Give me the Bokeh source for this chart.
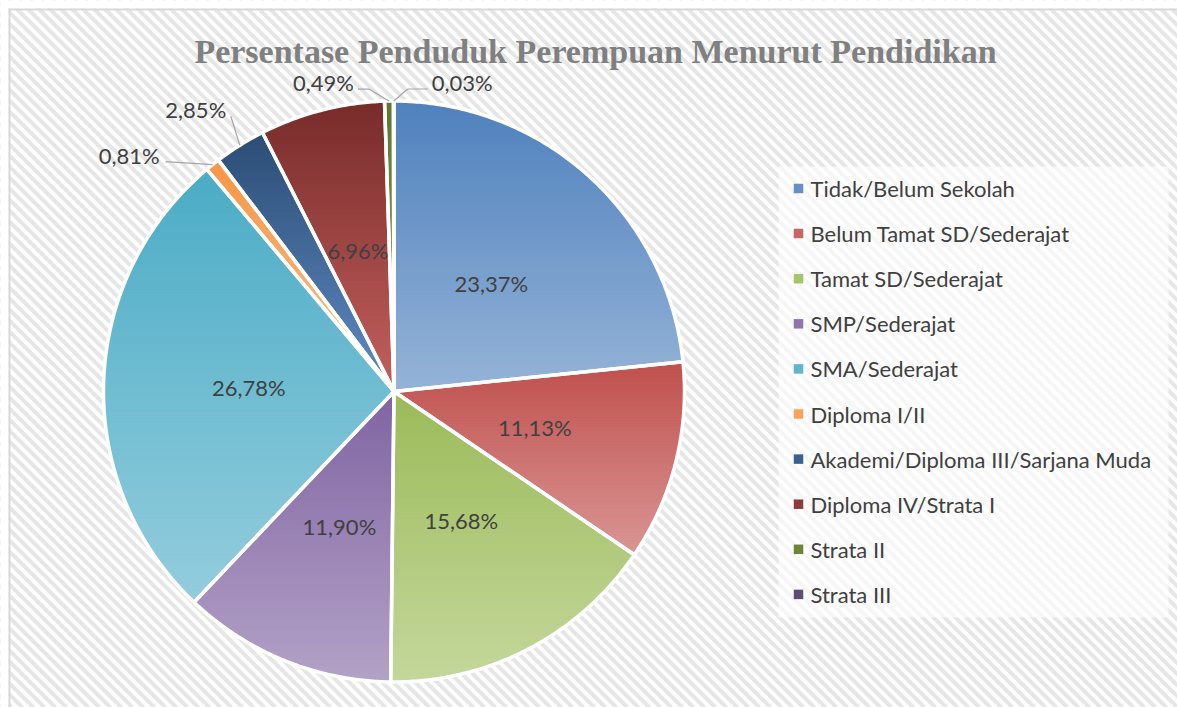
import numpy as np
from bokeh.plotting import figure
from bokeh.models import Range1d
from bokeh.core.properties import value
from bokeh.embed import file_html
from bokeh.resources import INLINE

# ---------------- data ----------------
title_text = "Persentase Penduduk Perempuan Menurut Pendidikan"
categories = [
    "Tidak/Belum Sekolah",
    "Belum Tamat SD/Sederajat",
    "Tamat SD/Sederajat",
    "SMP/Sederajat",
    "SMA/Sederajat",
    "Diploma I/II",
    "Akademi/Diploma III/Sarjana Muda",
    "Diploma IV/Strata I",
    "Strata II",
    "Strata III",
]
percentages = [23.37, 11.13, 15.68, 11.90, 26.78, 0.81, 2.85, 6.96, 0.49, 0.03]

# ---------------- style ----------------
top_colors = ["#4F81BD", "#C0504D", "#9BBB59", "#8064A2", "#4BACC6",
              "#F79646", "#2C4D75", "#772C2A", "#5F7530", "#4D3B62"]
bottom_colors = ["#95B3D7", "#D99694", "#C4D79B", "#B3A2C7", "#93CDDD",
                 "#FAC090", "#5F8BC4", "#C4605E", "#8FAA55", "#8D79A8"]

W, H = 1177, 707
CX, CY, R = 393.5, 391.0, 290.5
TEXT_FONT = "Lato"
TEXT_COLOR = "#404040"

# outside label layout: offsets relative to slice's arc mid-point
outside_layout = {
    5: dict(leader=[(-47, -3)], label=(-53, -9), align="right"),
    6: dict(leader=[(-9, -29)], label=(-44, -36), align="center"),
    8: dict(leader=[(-20, -12), (-31, -12)], label=(-35, -19), align="right"),
    9: dict(leader=[(14, -12), (34, -12)], label=(38, -19), align="left"),
}


def hex2rgb(h):
    h = h.lstrip("#")
    return np.array([int(h[i:i + 2], 16) for i in (0, 2, 4)], dtype=float)


def rgb2hex(c):
    c = np.clip(np.round(c), 0, 255).astype(int)
    return "#%02x%02x%02x" % tuple(c)


def clip_half(pts, keep, yc):
    out = []
    n = len(pts)
    for i in range(n):
        cur = pts[i]
        prev = pts[i - 1]
        cin, pin = keep(cur), keep(prev)
        if cin:
            if not pin:
                t = (yc - prev[1]) / (cur[1] - prev[1])
                out.append((prev[0] + t * (cur[0] - prev[0]), yc))
            out.append(cur)
        elif pin:
            t = (yc - prev[1]) / (cur[1] - prev[1])
            out.append((prev[0] + t * (cur[0] - prev[0]), yc))
    return out


def clip_band(pts, y0, y1):
    p1 = clip_half(pts, lambda p: p[1] >= y0, y0)
    if len(p1) < 3:
        return None
    p2 = clip_half(p1, lambda p: p[1] <= y1, y1)
    if len(p2) < 3:
        return None
    return p2


p = figure(width=W, height=H, x_range=Range1d(0, W), y_range=Range1d(H, 0),
           output_backend="svg", toolbar_location=None, min_border=0,
           x_axis_location=None, y_axis_location=None)
p.grid.visible = False
p.outline_line_color = None
p.background_fill_color = "white"
p.border_fill_color = "white"

# background diagonal stripes
sx0, sy0, sx1, sy1 = [], [], [], []
for x0 in np.arange(-H, W + 20, 11.0):
    sx0.append(x0)
    sy0.append(0)
    sx1.append(x0 + H)
    sy1.append(H)
p.segment(x0=sx0, y0=sy0, x1=sx1, y1=sy1, line_color="#E6E6E6", line_width=4)

# white margin outside the chart area and chart border (top / left)
p.quad(left=[0, 0], right=[W, 8], top=[0, 0], bottom=[8, H], fill_color="white", line_color=None)
p.segment(x0=[8, 9], y0=[9, 8], x1=[W, 9], y1=[9, H], line_color="#D9D9D9", line_width=2)

# ---------------- pie ----------------
total = sum(percentages)
cum = np.concatenate([[0], np.cumsum(percentages)]) / total * 2 * np.pi

slice_polys = []
band_xs, band_ys, band_cols = [], [], []
for i, v in enumerate(percentages):
    a0, a1 = cum[i], cum[i + 1]
    n = max(2, int(np.degrees(a1 - a0) * 2) + 2)
    angs = np.linspace(a0, a1, n)
    pts = [(CX, CY)] + [(CX + R * np.sin(a), CY - R * np.cos(a)) for a in angs]
    slice_polys.append(pts)
    ys = [q[1] for q in pts]
    ymin, ymax = min(ys), max(ys)
    c_top, c_bot = hex2rgb(top_colors[i]), hex2rgb(bottom_colors[i])
    step = 3.0
    yb = ymin
    while yb < ymax:
        ye = min(yb + step, ymax)
        poly = clip_band(pts, yb - 0.4, ye + 0.4)
        if poly:
            t = ((yb + ye) / 2 - ymin) / max(ymax - ymin, 1e-6)
            band_xs.append([q[0] for q in poly])
            band_ys.append([q[1] for q in poly])
            band_cols.append(rgb2hex(c_top + (c_bot - c_top) * t))
        yb = ye

p.patches(xs=band_xs, ys=band_ys, fill_color=band_cols, line_color=band_cols, line_width=0.8)
p.patches(xs=[[q[0] for q in s] for s in slice_polys], ys=[[q[1] for q in s] for s in slice_polys],
          fill_alpha=0, line_color="white", line_width=3.5, line_join="round")

# ---------------- labels ----------------
label_strings = [("%.2f" % v).replace(".", ",") + "%" for v in percentages]
in_x, in_y, in_t = [], [], []
lx0, ly0, lx1, ly1 = [], [], [], []
for i, v in enumerate(percentages):
    mid = (cum[i] + cum[i + 1]) / 2
    if i in outside_layout:
        ax, ay = CX + R * np.sin(mid), CY - R * np.cos(mid)
        lay = outside_layout[i]
        prev = (ax, ay)
        for dx, dy in lay["leader"]:
            nxt = (ax + dx, ay + dy)
            lx0.append(prev[0]); ly0.append(prev[1]); lx1.append(nxt[0]); ly1.append(nxt[1])
            prev = nxt
        p.text(x=[ax + lay["label"][0]], y=[ay + lay["label"][1]], text=[label_strings[i]],
               text_font=value(TEXT_FONT), text_font_size="22px", text_color=TEXT_COLOR,
               text_align=lay["align"], text_baseline="middle")
    else:
        in_x.append(CX + 0.5 * R * np.sin(mid))
        in_y.append(CY - 0.5 * R * np.cos(mid))
        in_t.append(label_strings[i])

p.segment(x0=lx0, y0=ly0, x1=lx1, y1=ly1, line_color="#A6A6A6", line_width=1.2)
p.text(x=in_x, y=in_y, text=in_t, text_font=value(TEXT_FONT), text_font_size="22px",
       text_color=TEXT_COLOR, text_align="center", text_baseline="middle")

# ---------------- title ----------------
p.text(x=[595], y=[51], text=[title_text], text_font=value("Liberation Serif"),
       text_font_style="bold", text_font_size="34px", text_color="#808080",
       text_align="center", text_baseline="middle")

# ---------------- legend ----------------
LEG_L, LEG_T, LEG_R, LEG_B = 778, 166, 1168, 617
p.quad(left=[LEG_L], right=[LEG_R], top=[LEG_T], bottom=[LEG_B], fill_color="white",
       fill_alpha=0.65, line_color=None)
leg_y = [188 + 45.1 * k for k in range(len(categories))]
mid_colors = [rgb2hex((hex2rgb(a) * 0.7 + hex2rgb(b) * 0.3)) for a, b in zip(top_colors, bottom_colors)]
p.rect(x=[798] * len(categories), y=leg_y, width=9.5, height=9.5, fill_color=mid_colors,
       line_color=None)
p.text(x=[810] * len(categories), y=leg_y, text=categories, text_font=value(TEXT_FONT),
       text_font_size="22px", text_color=TEXT_COLOR, text_align="left", text_baseline="middle")

open("out.html", "w").write(file_html(p, INLINE))
